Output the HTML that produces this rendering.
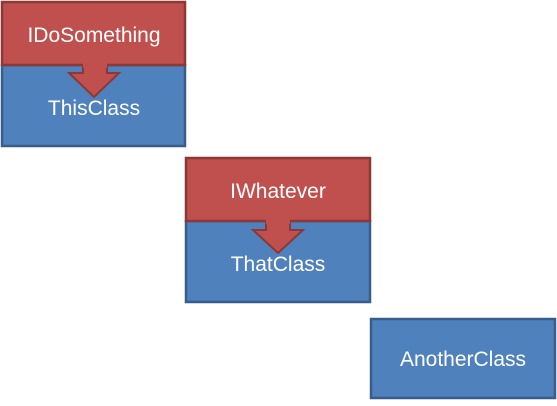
<!DOCTYPE html>
<html><head><style>
body{margin:0;background:#fff;width:557px;height:401px;overflow:hidden;}
</style></head><body>
<svg width="557" height="401" xmlns="http://www.w3.org/2000/svg" font-family="'Liberation Sans',sans-serif" font-size="21" fill="#fff">
<rect x="2" y="65" width="183" height="81" fill="#4F81BD" stroke="#385D8A" stroke-width="2.5"/>
<rect x="2" y="2" width="183" height="63" fill="#C0504D" stroke="#8C3836" stroke-width="2.5"/>
<polygon points="83,66 107,66 107,73 119,73 94,97 69,73 83,73" fill="#C0504D" stroke="#8C3836" stroke-width="2"/>
<rect x="83" y="63" width="24" height="5" fill="#C0504D"/>
<text x="94" y="42" text-anchor="middle" fill="#fff">IDoSomething</text>
<text x="94" y="115" text-anchor="middle" fill="#fff">ThisClass</text>

<rect x="186" y="221" width="184" height="81" fill="#4F81BD" stroke="#385D8A" stroke-width="2.5"/>
<rect x="186" y="158" width="184" height="63" fill="#C0504D" stroke="#8C3836" stroke-width="2.5"/>
<polygon points="266,222 290,222 290,230 303,230 278,253 253,230 266,230" fill="#C0504D" stroke="#8C3836" stroke-width="2"/>
<rect x="266" y="219" width="24" height="5" fill="#C0504D"/>
<text x="278" y="198" text-anchor="middle" fill="#fff">IWhatever</text>
<text x="278" y="271" text-anchor="middle" fill="#fff">ThatClass</text>

<rect x="371" y="319" width="184" height="79" fill="#4F81BD" stroke="#385D8A" stroke-width="2.5"/>
<text x="463" y="366" text-anchor="middle" fill="#fff">AnotherClass</text>
</svg>
</body></html>
